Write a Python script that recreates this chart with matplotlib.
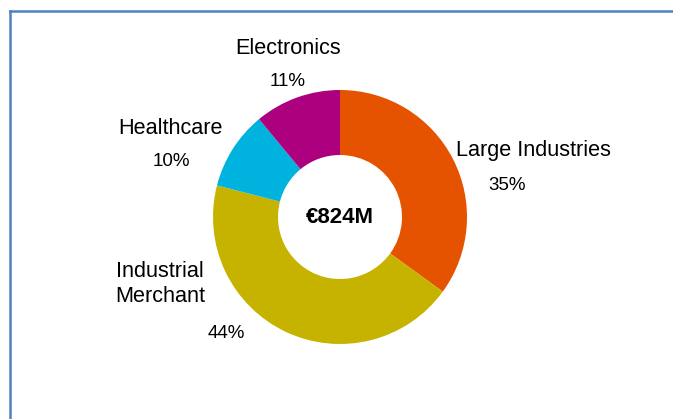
import matplotlib.pyplot as plt
from matplotlib.lines import Line2D

plt.rcParams['font.family'] = ['Liberation Sans', 'DejaVu Sans']

segments = ['Large Industries', 'Industrial Merchant', 'Healthcare', 'Electronics']
shares = [35, 44, 10, 11]
colors = ['#E65300', '#C6B300', '#00B2DE', '#AC007E']
total_label = '€824M'

W, H = 673, 419
fig = plt.figure(figsize=(W / 100, H / 100), dpi=100)
ax = fig.add_axes([0, 0, 1, 1])

# donut in pixel-like coordinates (y up)
cx, cy, r = 340, H - 217, 127
ax.pie(shares, colors=colors, startangle=90, counterclock=False,
       center=(cx, cy), radius=r,
       wedgeprops=dict(width=r - 62, linewidth=0))
ax.set_xlim(0, W)
ax.set_ylim(0, H)
ax.set_aspect('equal')
ax.axis('off')

ax.text(cx, cy, total_label, ha='center', va='center',
        fontsize=16, fontweight='bold')

# label layout (name position, pct position) in pixels from top-left
name_pos = [(533, 150), (160, 284), (170, 128), (288, 48)]
pct_pos = [(507, 185), (226, 333), (171, 161), (288, 81)]
names = ['Large Industries', 'Industrial\nMerchant', 'Healthcare', 'Electronics']
for name, (nx, ny), (px, py), s in zip(names, name_pos, pct_pos, shares):
    ax.text(nx, H - ny, name, ha='center', va='center', fontsize=15.6,
            linespacing=1.22)
    ax.text(px, H - py, f'{s}%', ha='center', va='center', fontsize=13.5)

# frame lines (top and left)
fig.add_artist(Line2D([9.5 / W, 1], [1 - 11.5 / H, 1 - 11.5 / H],
                      transform=fig.transFigure, color='#4F81BD', lw=1.8))
fig.add_artist(Line2D([9.5 / W, 9.5 / W], [0, 1 - 11.5 / H],
                      transform=fig.transFigure, color='#4F81BD', lw=1.8))

fig.savefig('out.png', dpi=100)
